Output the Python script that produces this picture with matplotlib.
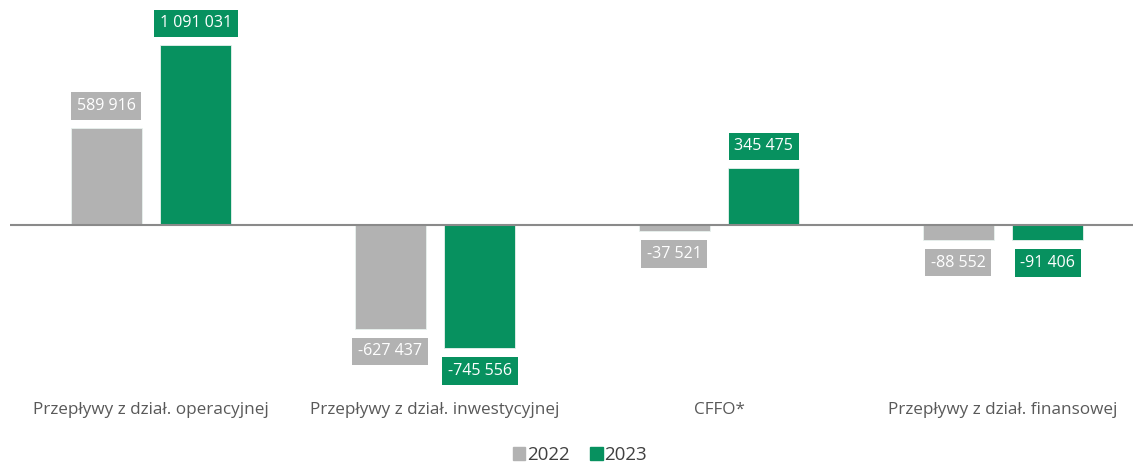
import matplotlib.pyplot as plt
import numpy as np
from matplotlib.patches import Patch

categories = ["Przepływy z dział. operacyjnej", "Przepływy z dział. inwestycyjnej",
              "CFFO*", "Przepływy z dział. finansowej"]
years = ["2022", "2023"]
v2022 = [589916, -627437, -37521, -88552]
v2023 = [1091031, -745556, 345475, -91406]

c_gray = "#b2b2b2"
c_green = "#07915f"
plt.rcParams['font.family'] = ['Open Sans', 'DejaVu Sans']


def fmt(v):
    s = f"{abs(v):,}".replace(",", " ")
    return ("-" if v < 0 else "") + s


fig = plt.figure(figsize=(11.33, 4.62), dpi=100)
ax = fig.add_axes([10 / 1133, 82 / 462, 1123 / 1133, 380 / 462])

x = np.arange(len(categories))
w = 0.25
off = 0.158

for vals, dx, col in [(v2022, -off, c_gray), (v2023, off, c_green)]:
    ax.bar(x + dx, vals, width=w, color=col, edgecolor="#e8f2ee", linewidth=0.6, zorder=2)
    for xi, v in zip(x + dx, vals):
        dy = 15.5 if v >= 0 else -16.5
        ax.annotate(fmt(v), (xi, v), xytext=(0, dy), textcoords="offset points",
                    ha="center", va="center", color="white", fontsize=11.5,
                    bbox=dict(boxstyle="square,pad=0.36", fc=col, ec="none"))

ax.axhline(0, color="#8a8a8a", lw=1.5, zorder=3)

scale = 1091031 / 180.0
ax.set_ylim(-155 * scale, 225 * scale)
ax.set_xlim(-141 / 284, 982 / 284)

ax.set_xticks(x)
ax.set_xticklabels(categories, fontsize=12.3, color="#595959")
ax.tick_params(axis="x", length=0, pad=16)
ax.set_yticks([])
for s in ax.spines.values():
    s.set_visible(False)

handles = [Patch(color=c_gray), Patch(color=c_green)]
fig.legend(handles, years, loc="center", bbox_to_anchor=(580 / 1133, (462 - 455) / 462),
           ncol=2, frameon=False, fontsize=13.5, handlelength=0.65, handleheight=0.65,
           handletextpad=0.1, columnspacing=1.1, labelcolor="#404040")

fig.savefig("out.png", dpi=100)
